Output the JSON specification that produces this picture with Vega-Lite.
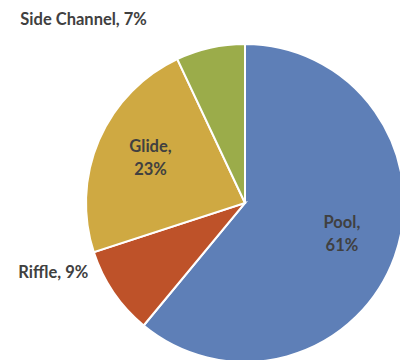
{
  "$schema": "https://vega.github.io/schema/vega-lite/v6.json",
  "width": 310,
  "height": 320,
  "autosize": "none",
  "padding": {"left": 90, "top": 43, "right": 0, "bottom": 0},
  "background": "white",
  "view": {"stroke": null},
  "data": {"values": [
    {"habitat": "Pool", "pct": 61, "idx": 1, "label": "Pool,\n61%"},
    {"habitat": "Riffle", "pct": 9, "idx": 2, "label": "Riffle, 9%"},
    {"habitat": "Glide", "pct": 23, "idx": 3, "label": "Glide,\n23%"},
    {"habitat": "Side Channel", "pct": 7, "idx": 4, "label": "Side Channel, 7%"}
  ]},
  "encoding": {
    "theta": {"field": "pct", "type": "quantitative", "stack": true},
    "order": {"field": "idx", "type": "quantitative"}
  },
  "layer": [
    {
      "mark": {"type": "arc", "outerRadius": 159, "stroke": "white", "strokeWidth": 2},
      "encoding": {
        "color": {
          "field": "habitat", "type": "nominal", "legend": null,
          "scale": {"domain": ["Pool", "Riffle", "Glide", "Side Channel"], "range": ["#5E7FB7", "#BE5229", "#CFA942", "#9BAC4A"]}
        }
      }
    },
    {
      "mark": {"type": "text", "radius": 103, "font": "Lato", "fontWeight": "bold", "fontSize": 16.5, "fill": "#404040", "lineBreak": "\n", "lineHeight": 23, "align": "center", "baseline": "middle", "dy": -15},
      "encoding": {
        "text": {"condition": {"test": "datum.habitat == 'Pool' || datum.habitat == 'Glide'", "field": "label"}, "value": ""}
      }
    },
    {
      "mark": {"type": "text", "radius": 175, "font": "Lato", "fontWeight": "bold", "fontSize": 16.5, "fill": "#404040", "align": "right", "baseline": "middle", "dx": -60, "dy": -12},
      "encoding": {
        "text": {"condition": {"test": "datum.habitat == 'Side Channel'", "field": "label"}, "value": ""}
      }
    },
    {
      "mark": {"type": "text", "radius": 175, "font": "Lato", "fontWeight": "bold", "fontSize": 16.5, "fill": "#404040", "align": "right", "baseline": "middle", "dx": -12, "dy": -28},
      "encoding": {
        "text": {"condition": {"test": "datum.habitat == 'Riffle'", "field": "label"}, "value": ""}
      }
    }
  ]
}
